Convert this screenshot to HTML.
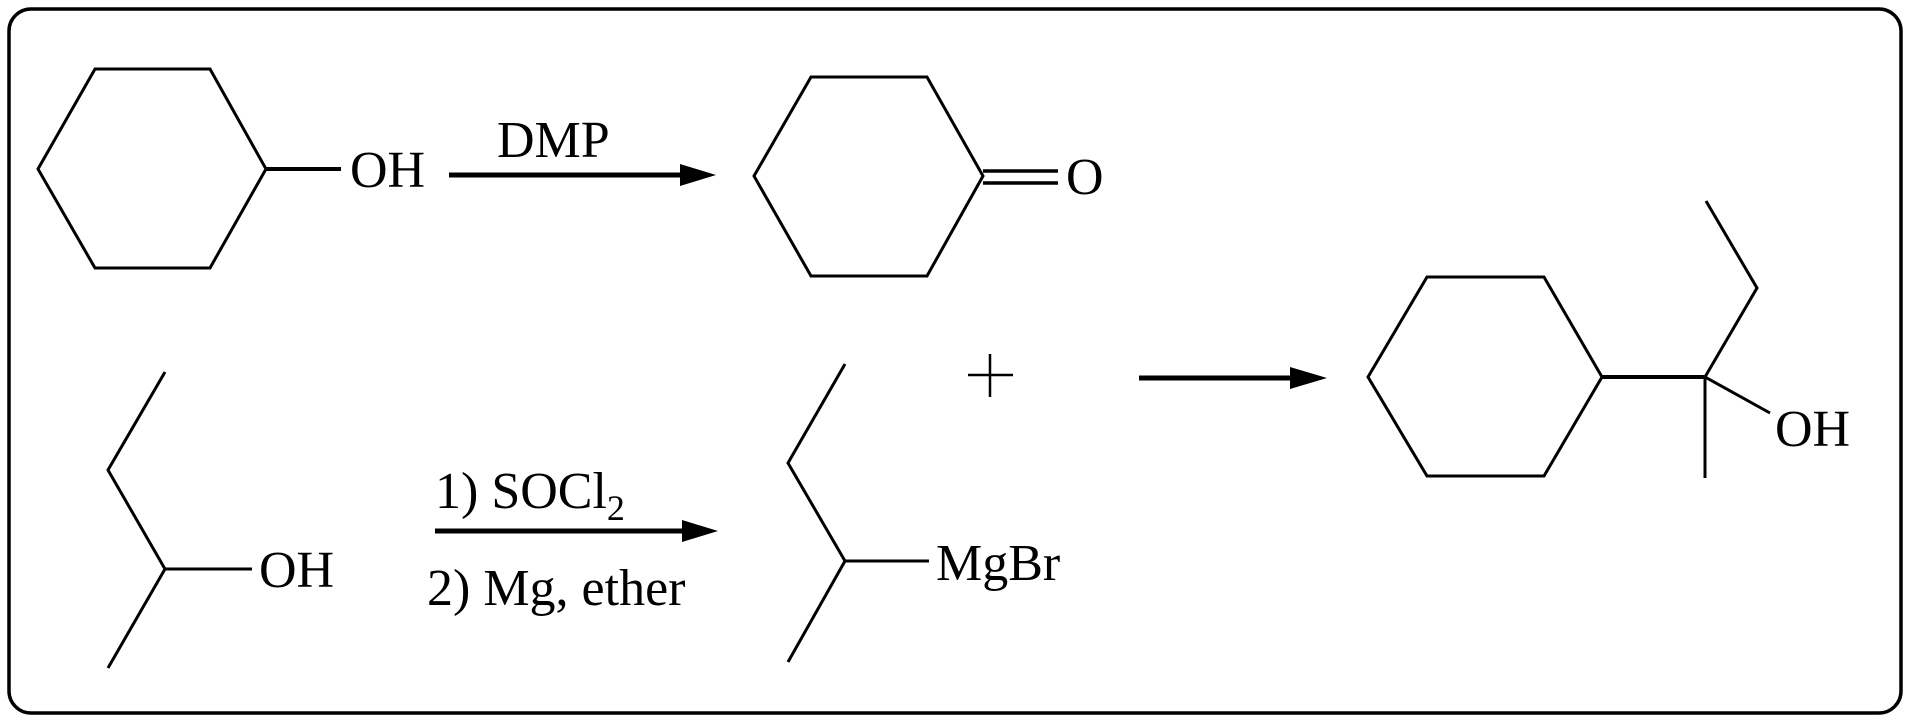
<!DOCTYPE html>
<html><head><meta charset="utf-8"><style>
html,body{margin:0;padding:0;background:#fff;}
svg{display:block;}
text{font-family:"Liberation Serif",serif;font-size:52px;fill:#000;}
</style></head><body>
<svg width="1910" height="722" viewBox="0 0 1910 722" xmlns="http://www.w3.org/2000/svg">
<rect x="9" y="9" width="1892" height="704" rx="22" ry="22" fill="none" stroke="#000" stroke-width="3.5"/>
<g fill="none" stroke="#000" stroke-width="3" stroke-linejoin="miter">
<polygon points="38,169 95,69 210,69 266,169 210,268 95,268"/>
<line x1="266" y1="169" x2="341" y2="169" stroke-width="4"/>
<polygon points="754,176 811,77 927,77 983,176 927,276 811,276"/>
<line x1="983" y1="171" x2="1058" y2="171" stroke-width="3.5"/>
<line x1="983" y1="183" x2="1058" y2="183" stroke-width="3.5"/>
<polyline points="165,372 108,470 165,569 108,668"/>
<line x1="165" y1="569" x2="252" y2="569"/>
<polyline points="845,364 788,463 845,561 788,662"/>
<line x1="845" y1="561" x2="929" y2="561"/>
<polygon points="1368,377 1427,277 1544,277 1602,377 1544,476 1427,476"/>
<line x1="1602" y1="377" x2="1705" y2="377" stroke-width="4"/>
<polyline points="1706,201 1757,288 1705,377"/>
<line x1="1705" y1="377" x2="1705" y2="478"/>
<line x1="1705" y1="377" x2="1770" y2="413"/>
<line x1="990" y1="354" x2="990" y2="397" stroke-width="2.5"/>
<line x1="968" y1="375" x2="1013" y2="375" stroke-width="2.5"/>
</g>
<g stroke="#000" stroke-width="5">
<line x1="449" y1="175" x2="690" y2="175"/>
<line x1="435" y1="531" x2="690" y2="531"/>
<line x1="1139" y1="378" x2="1300" y2="378"/>
</g>
<g fill="#000">
<polygon points="716,175 680,164 680,186"/>
<polygon points="718,531 682,520 682,542"/>
<polygon points="1327,378 1290,367 1290,389"/>
</g>
<text x="350" y="187">OH</text>
<text x="497" y="157">DMP</text>
<text x="1066" y="194">O</text>
<text x="259" y="587">OH</text>
<text x="435" y="508">1) SOCl<tspan font-size="36" dy="12">2</tspan></text>
<text x="427" y="605">2) Mg, ether</text>
<text x="936" y="580">MgBr</text>
<text x="1775" y="446">OH</text>
</svg>
</body></html>
